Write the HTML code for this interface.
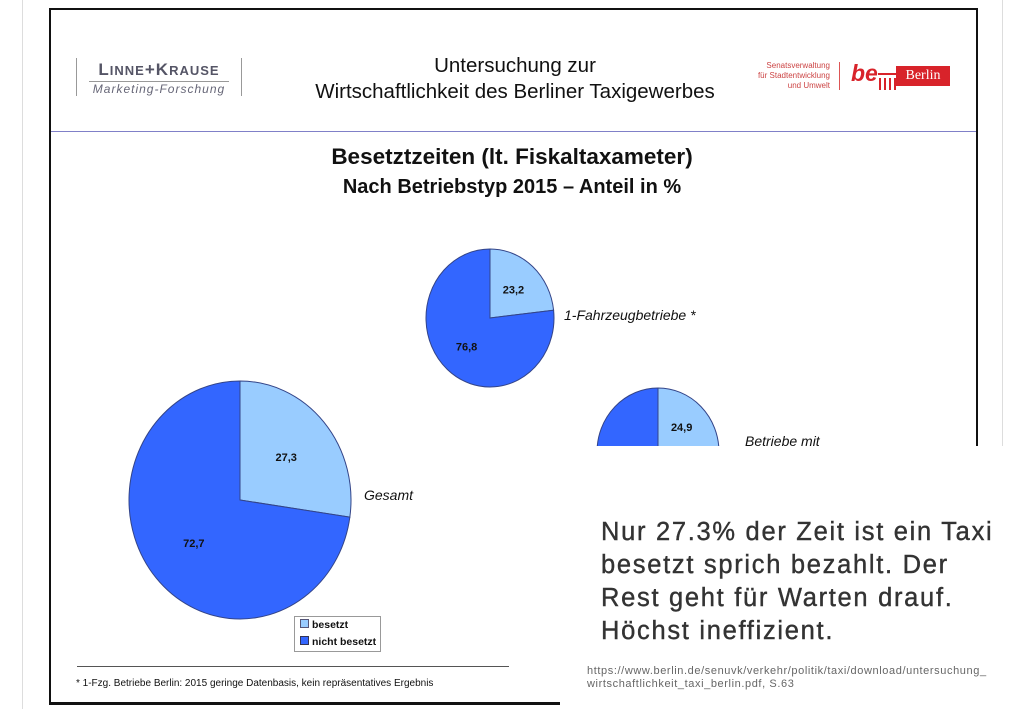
<!DOCTYPE html>
<html><head><meta charset="utf-8"><style>
body{margin:0;width:1024px;height:709px;overflow:hidden;background:#fff;font-family:"Liberation Sans",sans-serif;position:relative}
.a{position:absolute;white-space:nowrap}
</style></head><body>
<div class="a" style="left:22px;top:0;width:1px;height:709px;background:#ddd"></div>
<div class="a" style="left:1002px;top:0;width:1px;height:446px;background:#ddd"></div>
<div class="a" style="left:49px;top:8px;width:925px;height:692px;border:2px solid #111;border-bottom-width:3px"></div>
<div class="a" style="left:51px;top:131px;width:925px;height:1px;background:#8080c8"></div>
<div class="a" style="left:76px;top:58px;width:164px;height:38px;border-left:1px solid #999;border-right:1px solid #999">
 <div style="text-align:center;font-size:17px;font-weight:bold;color:#556;letter-spacing:1px;margin-top:2px">L<span style="font-size:13px">INNE</span>+K<span style="font-size:13px">RAUSE</span></div>
 <div style="margin:1px 12px 0;border-top:1px solid #999"></div>
 <div style="text-align:center;font-size:12px;font-style:italic;color:#667;letter-spacing:1px">Marketing-Forschung</div>
</div>
<div class="a" style="left:290px;top:53px;width:450px;text-align:center;font-size:20.5px;line-height:26px;color:#111">Untersuchung zur<br>Wirtschaftlichkeit des Berliner Taxigewerbes</div>
<div class="a" style="left:756px;top:61px;width:74px;text-align:right;font-size:8px;line-height:10px;color:#c44">Senatsverwaltung<br>für Stadtentwicklung<br>und Umwelt</div>
<div class="a" style="left:839px;top:62px;width:1px;height:28px;background:#d55"></div>
<div class="a" style="left:851px;top:60px;font-size:23px;font-weight:bold;font-style:italic;color:#d8232a">be</div>
<svg class="a" style="left:878px;top:70px" width="20" height="20"><g stroke="#d8232a" stroke-width="2"><line x1="0" y1="4" x2="20" y2="4"/><line x1="2" y1="8" x2="2" y2="20"/><line x1="7" y1="8" x2="7" y2="20"/><line x1="12" y1="8" x2="12" y2="20"/><line x1="17" y1="8" x2="17" y2="20"/></g></svg>
<div class="a" style="left:896px;top:66px;width:54px;height:20px;background:#d8232a;color:#fff;font-family:'Liberation Serif',serif;font-size:14px;line-height:20px;text-align:center">Berlin</div>
<div class="a" style="left:200px;top:142px;width:624px;text-align:center;font-size:22.5px;font-weight:bold;color:#111;line-height:29px">Besetztzeiten (lt. Fiskaltaxameter)<br><span style="font-size:20px">Nach Betriebstyp 2015 – Anteil in %</span></div>

<svg class="a" style="left:0;top:0" width="1024" height="709">
<defs><clipPath id="clip3"><rect x="0" y="0" width="1024" height="446"/></clipPath></defs>
<g id="pies"></g>
</svg>
<script>
const pieNames=["Gesamt","1-Fahrzeugbetriebe *","Betriebe mit"];
const besetzt=[27.3,23.2,24.9];
const nichtBesetzt=[72.7,76.8,75.1];
const geo=[{cx:240,cy:500,rx:111,ry:119,lx:364,ly:500},{cx:490,cy:318,rx:64,ry:69,lx:564,ly:320},{cx:658,cy:452,rx:61,ry:64,lx:745,ly:446}];
const g=document.getElementById('pies');
const NS='http://www.w3.org/2000/svg';
function pt(c,a){return [c.cx+c.rx*Math.sin(a),c.cy-c.ry*Math.cos(a)];}
function fmt(v){return v.toFixed(1).replace('.',',');}
besetzt.forEach((b,i)=>{
 const c=geo[i];const tot=b+nichtBesetzt[i];
 const grp=document.createElementNS(NS,'g');
 
 
 if(i===2)grp.setAttribute('clip-path','url(#clip3)');
 const a1=b/tot*2*Math.PI;
 const segs=[[0,a1,'#99ccff',b,'besetzt'],[a1,2*Math.PI,'#3366ff',nichtBesetzt[i],'nicht-besetzt']];
 segs.forEach(s=>{
  const p0=pt(c,s[0]),p1=pt(c,s[1]);
  const large=(s[1]-s[0])>Math.PI?1:0;
  const path=document.createElementNS(NS,'path');
  path.setAttribute('d',`M${c.cx},${c.cy}L${p0[0]},${p0[1]}A${c.rx},${c.ry} 0 ${large} 1 ${p1[0]},${p1[1]}Z`);
  path.setAttribute('fill',s[2]);path.setAttribute('stroke','#334488');path.setAttribute('stroke-width','1');
  
  
  grp.appendChild(path);
  const mid=(s[0]+s[1])/2;
  const lp=[c.cx+c.rx*0.55*Math.sin(mid),c.cy-c.ry*0.55*Math.cos(mid)];
  if(i===2&&s[4]!=='besetzt')return;
  const t=document.createElementNS(NS,'text');
  t.setAttribute('x',lp[0]);t.setAttribute('y',lp[1]+4);
  t.setAttribute('text-anchor','middle');t.setAttribute('font-size','11');t.setAttribute('font-weight','bold');t.setAttribute('fill','#111');
  t.setAttribute('font-family','Liberation Sans');
  
  
  t.textContent=fmt(s[3]);grp.appendChild(t);
 });
 const n=document.createElementNS(NS,'text');
 n.setAttribute('x',c.lx);n.setAttribute('y',c.ly);n.setAttribute('font-size','14');n.setAttribute('font-style','italic');n.setAttribute('fill','#111');
 n.setAttribute('font-family','Liberation Sans');
 
 
 n.textContent=pieNames[i];grp.appendChild(n);
 g.appendChild(grp);
});
</script>

<div class="a" style="left:294px;top:616px;width:85px;height:34px;border:1px solid #999;font-size:10.5px;font-weight:bold;line-height:17px;color:#111">
 <div style="padding-left:5px"><span style="display:inline-block;width:7px;height:7px;background:#99ccff;border:1px solid #557;margin-right:3px"></span>besetzt</div>
 <div style="padding-left:5px"><span style="display:inline-block;width:7px;height:7px;background:#3366ff;border:1px solid #335;margin-right:3px"></span>nicht besetzt</div>
</div>
<div class="a" style="left:77px;top:666px;width:432px;height:1px;background:#555"></div>
<div class="a" style="left:76px;top:678px;font-size:10px;color:#111">* 1-Fzg. Betriebe Berlin: 2015 geringe Datenbasis, kein repräsentatives Ergebnis</div>

<div class="a" style="left:560px;top:446px;width:464px;height:263px;background:#fff"></div>
<div class="a" style="left:601px;top:516px;font-size:25.5px;line-height:33px;color:#333;letter-spacing:1.7px;-webkit-text-stroke:0.4px #333">Nur 27.3% der Zeit ist ein Taxi<br>besetzt sprich bezahlt. Der<br>Rest geht für Warten drauf.<br>Höchst ineffizient.</div>
<div class="a" style="left:587px;top:665px;font-size:11px;line-height:13px;color:#666;letter-spacing:0.6px">https://www.berlin.de/senuvk/verkehr/politik/taxi/download/untersuchung_<br>wirtschaftlichkeit_taxi_berlin.pdf, S.63</div>
</body></html>
